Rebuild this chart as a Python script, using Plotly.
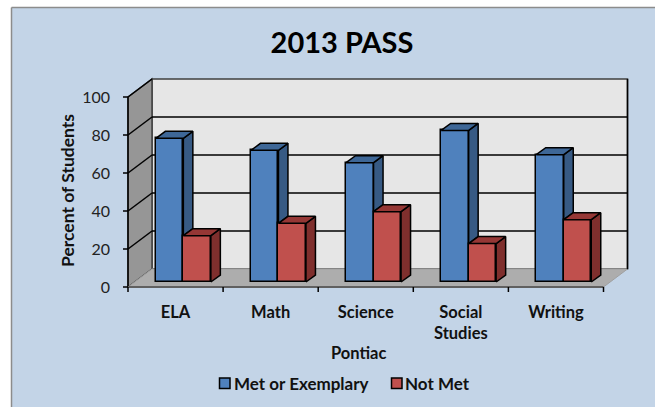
import plotly.graph_objects as go

categories = ["ELA", "Math", "Science", "Social<br>Studies", "Writing"]
series_names = ["Met or Exemplary", "Not Met"]
met_values = [75.6, 69.3, 62.8, 79.8, 67.0]
not_met_values = [24.4, 30.9, 37.0, 20.2, 32.8]
y_ticks = [0, 20, 40, 60, 80, 100]

W, H = 655, 407
X0_PX, Y0_PX = 128, 287      # origin of the front plane in pixels
CAT_PX, UNIT_PX = 95.1, 1.9  # pixels per category / per percent
px_x = lambda p: p / CAT_PX
px_y = lambda p: p / UNIT_PX

wall_dx, wall_dy = px_x(24), px_y(18)
front_dx, base = px_x(7.8), px_y(5)
side_dx, side_dy = px_x(9.5), px_y(7)
bar_w = px_x(27.5)
n = len(categories)

BG = "#c3d4e7"
BLUE, RED = "#4f81bd", "#c0504d"
shapes = [
    dict(type="rect", xref="paper", yref="paper", x0=11.5 / W, x1=1, y0=0, y1=1 - 7.5 / H,
         fillcolor=BG, line_width=0, layer="below"),
    dict(type="line", xref="paper", yref="paper", x0=11.5 / W, x1=11.5 / W, y0=0, y1=1 - 7.5 / H,
         line=dict(color="#8c8c8c", width=1.5), layer="below"),
    dict(type="line", xref="paper", yref="paper", x0=11.5 / W, x1=1, y0=1 - 7.5 / H, y1=1 - 7.5 / H,
         line=dict(color="#8c8c8c", width=1.5), layer="below"),
]


def poly(points, fill, line="#404040", width=1.5):
    path = "M " + " L ".join(f"{x} {y}" for x, y in points) + " Z"
    shapes.append(dict(type="path", path=path, xref="x", yref="y", fillcolor=fill,
                       line=dict(color=line, width=width), layer="below"))


def seg(x0, y0, x1, y1, color="#000000", width=1.5):
    shapes.append(dict(type="line", xref="x", yref="y", x0=x0, y0=y0, x1=x1, y1=y1,
                       line=dict(color=color, width=width), layer="below"))


top = y_ticks[-1]
poly([(wall_dx, wall_dy), (n + wall_dx, wall_dy), (n + wall_dx, top + wall_dy), (wall_dx, top + wall_dy)], "#e6e6e6")
poly([(0, 0), (wall_dx, wall_dy), (wall_dx, top + wall_dy), (0, top)], "#969696")
poly([(0, 0), (n, 0), (n + wall_dx, wall_dy), (wall_dx, wall_dy)], "#adadad", line="#a0a0a0", width=1)
for t in y_ticks[1:-1]:
    seg(wall_dx, t + wall_dy, n + wall_dx, t + wall_dy)
for t in y_ticks[1:]:
    seg(0, t, wall_dx, t + wall_dy)
seg(n + wall_dx, wall_dy, n + wall_dx, top + wall_dy)
seg(0, 0, 0, top)
seg(0, 0, n, 0, color="#606060", width=2)
for i in range(n + 1):
    seg(i, 0, i, -px_y(5))
for t in y_ticks:
    seg(0, t, -px_x(5), t)


def nan_join(polys):
    xs, ys = [], []
    for p in polys:
        xs += [q[0] for q in p] + [p[0][0], None]
        ys += [q[1] for q in p] + [p[0][1], None]
    return xs, ys


def face(polys, color):
    xs, ys = nan_join(polys)
    return go.Scatter(x=xs, y=ys, mode="lines", fill="toself", fillcolor=color,
                      line=dict(color="#000000", width=1.5), showlegend=False, hoverinfo="skip")


centers = [i + 0.5 + front_dx for i in range(n)]
blue_x = [c - bar_w / 2 for c in centers]
red_x = [c + bar_w / 2 for c in centers]

fig = go.Figure()
fig.add_trace(go.Bar(x=blue_x, y=met_values, base=base, width=bar_w, name=series_names[0], showlegend=False,
                     marker=dict(color=BLUE, line=dict(color="#000000", width=1.5))))
fig.add_trace(go.Bar(x=red_x, y=not_met_values, base=base, width=bar_w, name=series_names[1], showlegend=False,
                     marker=dict(color=RED, line=dict(color="#000000", width=1.5))))

# depth faces of each bar
blue_side, blue_top, red_side, red_top = [], [], [], []
for c, b, r in zip(centers, met_values, not_met_values):
    l, m, e = c - bar_w, c, c + bar_w
    blue_side.append([(m, base + r), (m + side_dx, base + r + side_dy),
                      (m + side_dx, base + b + side_dy), (m, base + b)])
    blue_top.append([(l, base + b), (m, base + b), (m + side_dx, base + b + side_dy),
                     (l + side_dx, base + b + side_dy)])
    red_side.append([(e, base), (e + side_dx, base + side_dy),
                     (e + side_dx, base + r + side_dy), (e, base + r)])
    red_top.append([(m, base + r), (e, base + r), (e + side_dx, base + r + side_dy),
                    (m + side_dx, base + r + side_dy)])
fig.add_trace(face(blue_side, "#375a84"))
fig.add_trace(face(blue_top, "#3e6797"))
fig.add_trace(face(red_side, "#7f2f2d"))
fig.add_trace(face(red_top, "#953735"))

FONT = "Lato, Carlito, Calibri, sans-serif"

# legend, spaced as in the reference (swatch tight against its label)
annotations = [
    dict(text="<b>Pontiac</b>", x=358 / W, y=1 - 353 / H, xref="paper", yref="paper", showarrow=False,
         xanchor="center", yanchor="middle", font=dict(size=16.5, family=FONT, color="#111111")),
    dict(text="<b>Percent of Students</b>", x=67 / W, y=1 - 191 / H, xref="paper", yref="paper",
         xanchor="center", yanchor="middle", showarrow=False, textangle=-90,
         font=dict(size=17.5, family=FONT, color="#111111")),
]
for name, color, left in zip(series_names, [BLUE, RED], [219.5, 391.5]):
    shapes.append(dict(type="rect", xref="paper", yref="paper", x0=left / W, x1=(left + 10.5) / W,
                       y0=1 - 388.5 / H, y1=1 - 378 / H, fillcolor=color,
                       line=dict(color="#000000", width=1.5)))
    annotations.append(dict(text=f"<b>{name}</b>", x=(left + 14) / W, y=1 - 383 / H, xref="paper", yref="paper",
                            xanchor="left", yanchor="middle", showarrow=False, xshift=-2,
                            font=dict(size=17, family=FONT, color="#111111")))

fig.update_layout(
    width=W, height=H, autosize=False, margin=dict(l=0, r=0, t=0, b=0),
    paper_bgcolor="#ffffff", plot_bgcolor="rgba(0,0,0,0)",
    barmode="overlay", bargap=0, shapes=shapes, showlegend=False,
    font=dict(family=FONT, color="#111111"),
    title=dict(text="<b>2013 PASS</b>", x=342 / W, xanchor="center", y=1 - 43 / H, yanchor="middle",
               font=dict(size=29, family=FONT, color="#000000")),
    xaxis=dict(range=[-X0_PX / CAT_PX, (W - X0_PX) / CAT_PX], anchor="free", position=(H - Y0_PX) / H,
               tickvals=[i + 0.5 for i in range(n)], ticktext=[f"<b>{c}</b>".replace("<br>", "</b><br><b>") for c in categories],
               ticks="", showgrid=False, zeroline=False, showline=False, tickangle=0,
               tickfont=dict(size=16.5, family=FONT, color="#111111"), ticklabelstandoff=13),
    yaxis=dict(range=[-(H - Y0_PX) / UNIT_PX, Y0_PX / UNIT_PX], anchor="free", position=X0_PX / W,
               tickvals=y_ticks, ticks="", showgrid=False, zeroline=False, showline=False,
               tickfont=dict(size=16, family=FONT, color="#222222"), ticklabelstandoff=18),
    annotations=annotations,
)
fig.write_html("out.html", post_script="document.body.style.margin='0';", config={"displayModeBar": False})
